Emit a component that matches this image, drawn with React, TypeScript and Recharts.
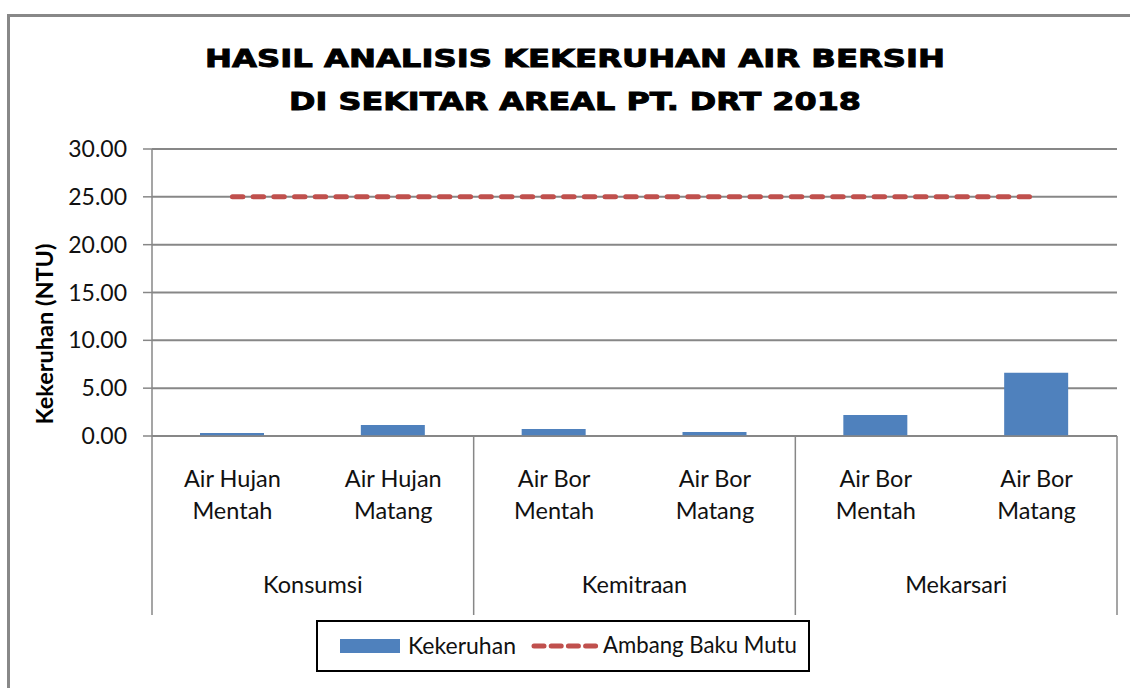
import React from "react";
import {
  ComposedChart,
  Bar,
  Line,
  XAxis,
  YAxis,
  CartesianGrid,
  Legend,
} from "recharts";

const categories = [
  "Air Hujan Mentah",
  "Air Hujan Matang",
  "Air Bor Mentah",
  "Air Bor Matang",
  "Air Bor Mentah",
  "Air Bor Matang",
];
const groups = ["Konsumsi", "Kemitraan", "Mekarsari"];
const kekeruhan = [0.31, 1.15, 0.73, 0.42, 2.2, 6.6];
const ambangBakuMutu = [25, 25, 25, 25, 25, 25];
const yTicks = [0, 5, 10, 15, 20, 25, 30];

const data = categories.map((c, i) => ({
  key: `${i}`,
  name: c,
  group: groups[Math.floor(i / 2)],
  kekeruhan: kekeruhan[i],
  ambang: ambangBakuMutu[i],
}));

const FONT = "Lato, 'Noto Sans', sans-serif";
const GRAY = "#878787";
const BLUE = "#4F81BD";
const RED = "#C0504D";
const W = 1130;
const H = 688;
const PLOT_LEFT = 152;
const PLOT_RIGHT = 1117;
const BAND = (PLOT_RIGHT - PLOT_LEFT) / categories.length;

const splitLabel = (s: string) => {
  const k = s.lastIndexOf(" ");
  return [s.slice(0, k), s.slice(k + 1)];
};

const XTick = (props: any) => {
  const { x, y, payload, index } = props;
  const i = typeof index === "number" ? index : Number(payload.value);
  const d = data[i];
  if (!d) return null;
  const [l1, l2] = splitLabel(d.name);
  return (
    <g>
      <text x={x} y={y + 51} textAnchor="middle" fontFamily={FONT} fontSize={23.5} fill="#111">
        {l1}
      </text>
      <text x={x} y={y + 83} textAnchor="middle" fontFamily={FONT} fontSize={23.5} fill="#111">
        {l2}
      </text>
      {i % 2 === 0 && (
        <text x={x + BAND / 2} y={y + 157} textAnchor="middle" fontFamily={FONT} fontSize={23.5} fill="#111">
          {d.group}
        </text>
      )}
      {i === 0 && (
        <line x1={x - BAND / 2} x2={x - BAND / 2} y1={y} y2={y + 179} stroke={GRAY} strokeWidth={1.5} />
      )}
      {i % 2 === 1 && (
        <line x1={x + BAND / 2} x2={x + BAND / 2} y1={y} y2={y + 179} stroke={GRAY} strokeWidth={1.5} />
      )}
    </g>
  );
};

const YLabel = () => (
  <text
    x={0}
    y={0}
    transform="translate(53, 334) rotate(-90)"
    textAnchor="middle"
    fontFamily={FONT}
    fontWeight="bold"
    fontSize={23.5}
    fill="#000"
  >
    Kekeruhan (NTU)
  </text>
);

const textStyle: React.CSSProperties = {
  position: "absolute",
  top: 8,
  fontFamily: FONT,
  fontSize: 23,
  lineHeight: "30px",
  color: "#111",
  whiteSpace: "nowrap",
};

const LegendBox = () => (
  <div style={{ width: W, height: 68, position: "relative" }}>
    <div
      style={{
        position: "absolute",
        left: 316,
        top: 0,
        width: 494,
        height: 52,
        border: "2px solid #000",
        boxSizing: "border-box",
        background: "#fff",
      }}
    >
      <div
        style={{
          position: "absolute",
          left: 22,
          top: 17,
          width: 60,
          height: 14,
          background: BLUE,
        }}
      />
      <div style={{ ...textStyle, left: 90 }}>Kekeruhan</div>
      <svg style={{ position: "absolute", left: 212, top: 18 }} width={70} height={12}>
        <line
          x1={4}
          x2={66}
          y1={6}
          y2={6}
          stroke={RED}
          strokeWidth={5}
          strokeDasharray="10 7.2"
          strokeLinecap="round"
        />
      </svg>
      <div style={{ ...textStyle, left: 285, fontSize: 22.2 }}>Ambang Baku Mutu</div>
    </div>
  </div>
);

const TITLE_FONT = "'DejaVu Sans', sans-serif";

const Title = () => (
  <svg
    width={W}
    height={130}
    style={{ position: "absolute", left: 0, top: 0, pointerEvents: "none" }}
  >
    <g transform="translate(575, 0) scale(1.3, 1)">
      <text
        x={0}
        y={67}
        textAnchor="middle"
        fontFamily={TITLE_FONT}
        fontWeight="bold"
        fontSize={24}
        fill="#000"
        stroke="#000"
        strokeWidth={0.9}
        textLength={740 / 1.3}
        lengthAdjust="spacingAndGlyphs"
      >
        HASIL ANALISIS KEKERUHAN AIR BERSIH
      </text>
      <text
        x={0}
        y={110}
        textAnchor="middle"
        fontFamily={TITLE_FONT}
        fontWeight="bold"
        fontSize={24}
        fill="#000"
        stroke="#000"
        strokeWidth={0.9}
        textLength={572 / 1.3}
        lengthAdjust="spacingAndGlyphs"
      >
        DI SEKITAR AREAL PT. DRT 2018
      </text>
    </g>
  </svg>
);

export default function App() {
  return (
    <div
      style={{
        position: "absolute",
        left: 0,
        top: 0,
        width: W,
        height: H,
        overflow: "hidden",
        background: "#fff",
      }}
    >
      <div
        style={{
          position: "absolute",
          left: 7,
          top: 14,
          width: 1300,
          height: 900,
          borderLeft: "3px solid #888",
          borderTop: "3px solid #888",
        }}
      />
      <div style={{ position: "absolute", left: 0, top: 0 }}>
        <ComposedChart
          width={W}
          height={H}
          data={data}
          margin={{ top: 149, right: W - PLOT_RIGHT, bottom: 0, left: 0 }}
        >
          <CartesianGrid vertical={false} stroke={GRAY} strokeWidth={2} />
          <XAxis
            dataKey="key"
            interval={0}
            height={184}
            tickLine={false}
            tickSize={0}
            tickMargin={0}
            axisLine={{ stroke: GRAY, strokeWidth: 1.5 }}
            tick={<XTick />}
          />
          <YAxis
            width={PLOT_LEFT}
            domain={[0, 30]}
            ticks={yTicks}
            interval={0}
            tickFormatter={(v: number) => v.toFixed(2)}
            tickSize={9}
            tickMargin={16}
            tickLine={{ stroke: GRAY, strokeWidth: 1.5 }}
            axisLine={{ stroke: GRAY, strokeWidth: 1.5 }}
            tick={{ fontFamily: FONT, fontSize: 23, fill: "#111" }}
            label={<YLabel />}
          />
          <Bar
            dataKey="kekeruhan"
            name="Kekeruhan"
            fill={BLUE}
            barSize={64}
            isAnimationActive={false}
          />
          <Line
            dataKey="ambang"
            name="Ambang Baku Mutu"
            stroke={RED}
            strokeWidth={5}
            strokeDasharray="10.5 10.2"
            strokeLinecap="round"
            dot={false}
            activeDot={false}
            isAnimationActive={false}
          />
          <Legend
            verticalAlign="bottom"
            content={<LegendBox />}
            wrapperStyle={{ left: 0, width: W, height: 68 }}
          />
        </ComposedChart>
      </div>
      <Title />
    </div>
  );
}
